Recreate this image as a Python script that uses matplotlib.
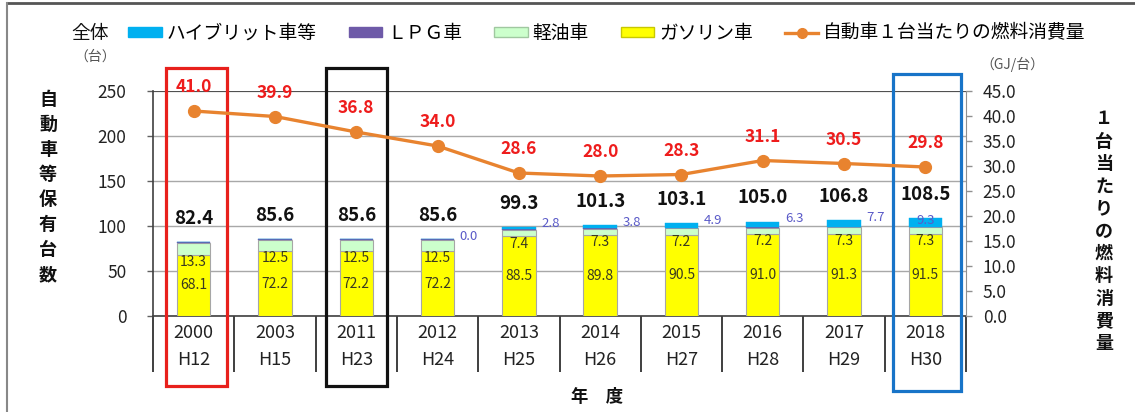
import matplotlib
matplotlib.use('Agg')
import matplotlib.pyplot as plt
from matplotlib.patches import Rectangle, Patch
from matplotlib.lines import Line2D
from matplotlib.transforms import blended_transform_factory
import numpy as np

plt.rcParams['font.family'] = ['Noto Sans CJK JP', 'DejaVu Sans']

years = ['2000', '2003', '2011', '2012', '2013', '2014', '2015', '2016', '2017', '2018']
eras = ['H12', 'H15', 'H23', 'H24', 'H25', 'H26', 'H27', 'H28', 'H29', 'H30']
gasoline = [68.1, 72.2, 72.2, 72.2, 88.5, 89.8, 90.5, 91.0, 91.3, 91.5]
diesel = [13.3, 12.5, 12.5, 12.5, 7.4, 7.3, 7.2, 7.2, 7.3, 7.3]
lpg = [1.0, 0.9, 0.9, 0.9, 0.6, 0.4, 0.5, 0.5, 0.5, 0.4]
hybrid = [0.0, 0.0, 0.0, 0.0, 2.8, 3.8, 4.9, 6.3, 7.7, 9.3]
total = [82.4, 85.6, 85.6, 85.6, 99.3, 101.3, 103.1, 105.0, 106.8, 108.5]
fuel = [41.0, 39.9, 36.8, 34.0, 28.6, 28.0, 28.3, 31.1, 30.5, 29.8]
hybrid_label_from = 3  # hybrid values labelled from 2012 on

C_HYB = '#00B0F0'
C_LPG = '#6E5AA8'
C_DIE = '#CCFFCC'
C_GAS = '#FFFF00'
C_LINE = '#E8832F'

W, H = 1135, 412
fig = plt.figure(figsize=(W / 100, H / 100), dpi=100)
fig.patch.set_facecolor('white')

def fx(px):
    return px / W

def fy(py):
    return 1 - py / H

ax = fig.add_axes([fx(153), fy(316), fx(966) - fx(153), fy(91) - fy(316)])
x = np.arange(len(years))
g = np.array(gasoline)
d = np.array(diesel)
l = np.array(lpg)
h = np.array(hybrid)
bw = 0.41
ek = dict(edgecolor='#A6A6A6', linewidth=0.8, width=bw, zorder=3)
ax.bar(x, g, color=C_GAS, **ek)
ax.bar(x, d, bottom=g, color=C_DIE, **ek)
ax.bar(x, l, bottom=g + d, color=C_LPG, edgecolor=C_LPG, linewidth=0.3, width=bw, zorder=3)
ax.bar(x, h, bottom=g + d + l, color=C_HYB, edgecolor=C_HYB, linewidth=0.3, width=bw, zorder=3)

ax.set_xlim(-0.5, len(years) - 0.5)
ax.set_ylim(0, 250)
ax.set_yticks([0, 50, 100, 150, 200, 250])
ax.yaxis.grid(True, color='#A8A8A8', linewidth=1.0, zorder=0)
ax.set_axisbelow(True)
for s in ['top', 'right']:
    ax.spines[s].set_visible(False)
ax.spines['left'].set_color('#404040')
ax.spines['bottom'].set_color('#404040')
ax.spines['left'].set_linewidth(1.2)
ax.spines['bottom'].set_linewidth(1.2)
ax.axhline(250, color='#404040', linewidth=1.2, zorder=1)
ax.tick_params(axis='y', direction='out', length=4, width=1, color='#606060',
               labelsize=12.5, pad=15, labelcolor='#222222')
ax.set_xticks([])
ax.set_xticks(np.arange(-0.5, len(years)), minor=True)
ax.tick_params(axis='x', which='minor', direction='out', length=40, width=1.3,
               color='#303030', labelbottom=False)

trx = blended_transform_factory(ax.transData, ax.transAxes)
for i in range(len(years)):
    ax.text(i, (316 - 333) / 225, years[i], transform=trx, ha='center', va='center',
            fontsize=13, color='#222222')
    ax.text(i, (316 - 360) / 225, eras[i], transform=trx, ha='center', va='center',
            fontsize=13, color='#222222')

# bar labels
for i in range(len(years)):
    ax.annotate(f'{total[i]:.1f}', (i, total[i]), xytext=(0, 17), textcoords='offset points',
                ha='center', va='center', fontsize=13.5, fontweight='bold', color='#111111', zorder=6)
    ax.text(i, gasoline[i] / 2, f'{gasoline[i]:.1f}', ha='center', va='center',
            fontsize=10, color='#3A3A20', zorder=5)
    ax.text(i, gasoline[i] - 8, f'{diesel[i]:.1f}', ha='center', va='center',
            fontsize=10, color='#3A3A20', zorder=5)
    if i >= hybrid_label_from:
        if i == len(years) - 1:
            ax.text(i, total[i] - hybrid[i] / 2 + 2, f'{hybrid[i]:.1f}', ha='center', va='center',
                    fontsize=9.5, color='#5A5AC8', zorder=5)
        else:
            ax.annotate(f'{hybrid[i]:.1f}', (i + bw / 2, total[i]), xytext=(4, 2),
                        textcoords='offset points', ha='left', va='center',
                        fontsize=9.5, color='#5A5AC8', zorder=5)

# right axis
ax2 = ax.twinx()
ax2.set_ylim(0, 45)
ax2.set_yticks(np.arange(0, 46, 5))
ax2.set_yticklabels([f'{v:.1f}' for v in np.arange(0, 46, 5)])
for s in ['top', 'left', 'bottom']:
    ax2.spines[s].set_visible(False)
ax2.spines['right'].set_color('#909090')
ax2.tick_params(axis='y', direction='out', length=4, width=1, color='#909090',
                labelsize=12.5, pad=8, labelcolor='#222222')
ax2.plot(x, fuel, color=C_LINE, linewidth=2.4, marker='o', markersize=8.5, zorder=5)
for i in range(len(years)):
    ax2.annotate(f'{fuel[i]:.1f}', (i, fuel[i]), xytext=(0, 17), textcoords='offset points',
                 ha='center', va='center', fontsize=12.5, fontweight='bold', color='#EE1C1C', zorder=6)

# highlight boxes
boxes = [(-0.34, 0.406, (316 - 68) / 225, (316 - 386) / 225, '#E8201C'),
         (1.63, 2.38, (316 - 68) / 225, (316 - 386) / 225, '#111111'),
         (8.60, 9.44, (316 - 74) / 225, (316 - 391) / 225, '#1874C8')]
for x0, x1, yt, yb, c in boxes:
    ax.add_patch(Rectangle((x0, yb), x1 - x0, yt - yb, transform=trx, fill=False,
                           edgecolor=c, linewidth=2.3, clip_on=False, zorder=7))

# axis titles
fig.text(fx(48), fy(187), '\n'.join('自動車等保有台数'), ha='center', va='center',
         fontsize=13, fontweight='bold', linespacing=1.40, color='#111111')
fig.text(fx(1104), fy(231), '\n'.join('１台当たりの燃料消費量'), ha='center', va='center',
         fontsize=13, fontweight='bold', linespacing=1.23, color='#111111')
fig.text(fx(95), fy(57), '（台）', ha='center', va='center', fontsize=10, color='#555555')
fig.text(fx(1012), fy(64), '（GJ/台）', ha='center', va='center', fontsize=10, color='#555555')
fig.text(fx(597), fy(397), '年　度', ha='center', va='center', fontsize=12.5,
         fontweight='bold', color='#111111')

# legend
fig.text(fx(90), fy(33), '全体', ha='center', va='center', fontsize=13.5, color='#111111')
handles = [Patch(facecolor=C_HYB, edgecolor=C_HYB),
           Patch(facecolor=C_LPG, edgecolor=C_LPG),
           Patch(facecolor=C_DIE, edgecolor='#A0C8A0'),
           Patch(facecolor=C_GAS, edgecolor='#C8C800'),
           Line2D([0], [0], color=C_LINE, linewidth=2.4, marker='o', markersize=7)]
labels = ['ハイブリット車等', 'ＬＰＧ車', '軽油車', 'ガソリン車', '自動車１台当たりの燃料消費量']
fig.legend(handles, labels, loc='center', bbox_to_anchor=(fx(607), fy(33)), ncol=5,
           frameon=False, fontsize=13.5, handlelength=1.8, handleheight=0.4,
           handletextpad=0.25, columnspacing=1.7, borderpad=0, borderaxespad=0)

# outer frame
fig.add_artist(Line2D([fx(7), 1], [fy(3), fy(3)], color='#555555', linewidth=2))
fig.add_artist(Line2D([fx(7), fx(7)], [0, fy(3)], color='#888888', linewidth=1.5))

fig.savefig('out.png', dpi=100)
